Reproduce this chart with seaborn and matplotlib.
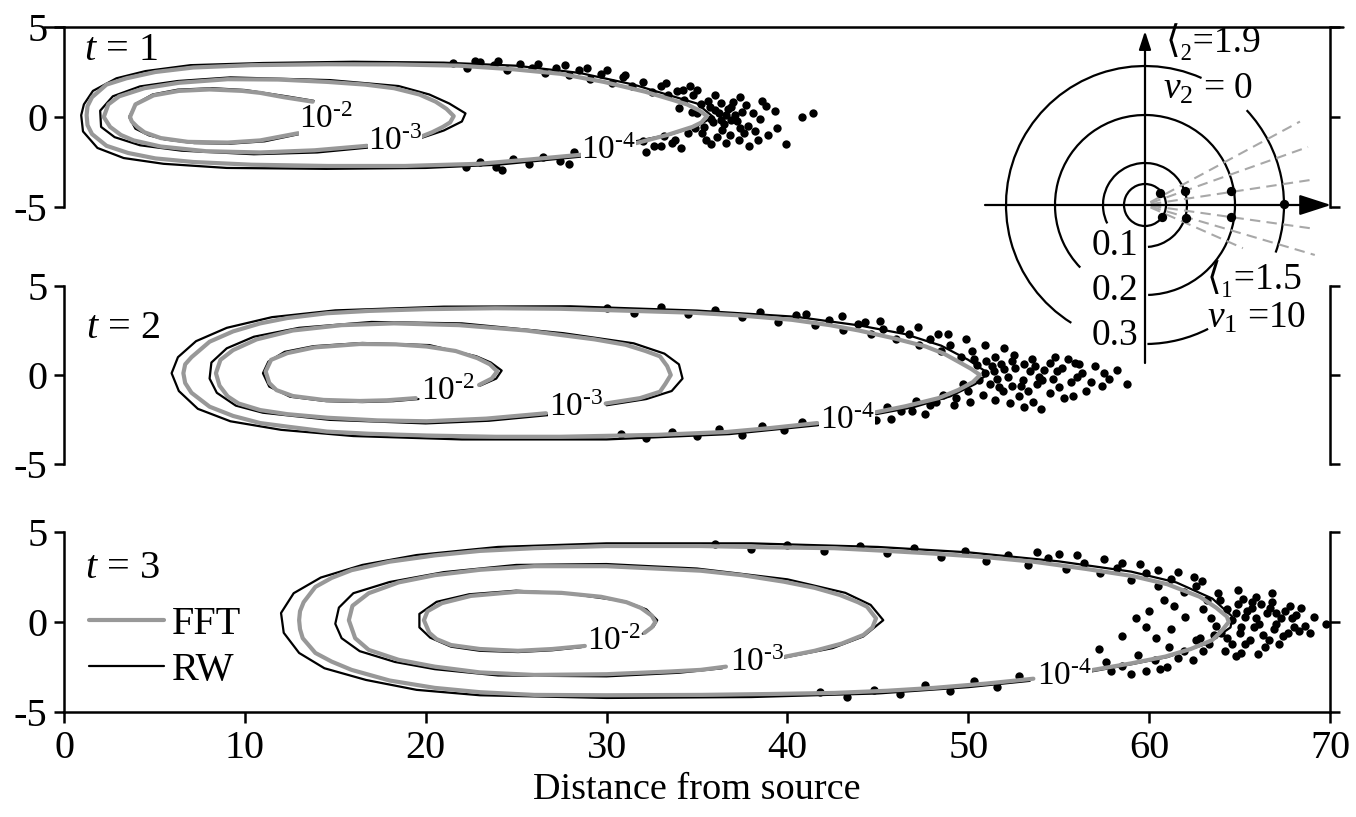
import numpy as np
import pandas as pd
import seaborn as sns
import matplotlib.pyplot as plt
from matplotlib.patches import Arc
from matplotlib.lines import Line2D

sns.set_theme(style='ticks')
plt.rcParams['font.family'] = ['Liberation Serif', 'DejaVu Serif']
plt.rcParams['mathtext.fontset'] = 'custom'
plt.rcParams['mathtext.rm'] = 'Liberation Serif'
plt.rcParams['mathtext.it'] = 'Liberation Serif:italic'
plt.rcParams['axes.unicode_minus'] = False
plt.rcParams['text.color'] = 'black'
plt.rcParams['axes.labelcolor'] = 'black'

# ---- contour data (x = distance, y = transverse) ----
level_labels = [r'10$^{\text{-}2}$', r'10$^{\text{-}3}$', r'10$^{\text{-}4}$']
time_labels = [r'$t$ = 1', r'$t$ = 2', r'$t$ = 3']
time_label_pos = [(1.1, 3.7), (1.2, 2.6), (1.15, 3.0)]

# t = 1
t1_fft_e2 = [(13.75, 0.85), (12.15, 1.1), (10.85, 1.34), (9.85, 1.45), (8.05, 1.53), (6.35, 1.45),
             (4.95, 1.2), (3.95, 0.7), (3.65, 0.0), (3.75, -0.25), (4.05, -0.55), (4.45, -0.85),
             (5.35, -1.17), (6.85, -1.38), (9.05, -1.42), (10.85, -1.3), (12.95, -0.9)]
t1_fft_e3 = [(19.75, -1.09), (20.35, -0.85), (20.95, -0.55), (21.35, -0.3), (21.55, 0.05), (21.15, 0.45),
             (20.55, 0.85), (19.65, 1.25), (18.25, 1.6), (16.65, 1.8), (14.55, 1.95), (11.85, 2.08),
             (9.05, 2.1), (6.35, 1.9), (4.45, 1.6), (3.05, 1.15), (2.45, 0.7), (2.2, 0.0), (2.55, -0.55),
             (3.15, -1.0), (3.85, -1.3), (5.35, -1.64), (7.85, -1.9), (10.85, -1.97), (13.85, -1.85),
             (16.75, -1.6)]
t1_fft_e4 = [(31.65, -1.45), (33.35, -1.0), (34.75, -0.55), (35.25, -0.3), (35.55, 0.05), (35.15, 0.35),
             (34.45, 0.7), (33.65, 0.95), (32.15, 1.4), (29.85, 1.95), (27.45, 2.4), (24.85, 2.65),
             (21.85, 2.85), (18.35, 2.92), (14.55, 2.93), (10.35, 2.88), (7.15, 2.75), (5.05, 2.5),
             (3.45, 2.15), (2.35, 1.8), (1.55, 1.1), (1.3, 0.6), (1.25, 0.1), (1.3, -0.45), (1.55, -0.95),
             (2.35, -1.6), (3.55, -2.0), (5.05, -2.3), (7.15, -2.5), (10.35, -2.65), (14.55, -2.72),
             (18.85, -2.72), (22.95, -2.6), (25.85, -2.35), (28.55, -2.1)]
t1_rw_e2 = [(13.8, 0.9), (12.3, 1.15), (10.0, 1.5), (8.2, 1.6), (6.3, 1.52), (4.9, 1.25), (4.0, 0.75),
            (3.6, 0.0), (3.95, -0.65), (4.7, -1.02), (5.6, -1.25), (7.2, -1.45), (9.2, -1.48),
            (11.1, -1.35), (13.0, -0.95)]
t1_rw_e3 = [(19.8, -1.15), (21.0, -0.75), (22.0, -0.25), (22.2, 0.2), (21.3, 0.75), (20.2, 1.25),
            (18.5, 1.72), (14.7, 2.05), (9.2, 2.2), (6.3, 2.0), (4.2, 1.7), (2.7, 1.15), (2.0, 0.35),
            (2.05, -0.55), (2.8, -1.12), (4.2, -1.57), (6.5, -1.87), (10.5, -2.07), (14.0, -1.97),
            (16.8, -1.7)]
t1_rw_e4 = [(31.6, -1.35), (33.6, -0.95), (35.0, -0.5), (35.9, 0.0), (35.0, 0.75), (33.5, 1.2),
            (31.5, 1.8), (28.5, 2.45), (25.0, 2.85), (21.0, 3.02), (16.0, 3.07), (11.0, 3.0),
            (7.0, 2.88), (4.5, 2.55), (2.9, 2.15), (1.6, 1.45), (1.1, 0.7), (0.95, 0.1), (1.05, -0.8),
            (1.85, -1.72), (3.3, -2.28), (5.5, -2.6), (9.0, -2.83), (14.5, -2.88), (20.0, -2.83),
            (24.0, -2.65), (28.6, -2.2)]
t1_dots = [(21.5, 3.0), (22.3, 2.75), (23.0, 3.05), (23.8, 2.9), (24.5, 2.6), (25.2, 2.95), (25.9, 2.7),
           (26.6, 2.45), (27.2, 2.75), (27.9, 2.35), (28.5, 2.6), (29.1, 2.1), (29.7, 2.4), (30.3, 1.9),
           (30.9, 2.2), (31.4, 1.7), (32.0, 1.95), (32.5, 1.4), (33.0, 1.75), (33.4, 1.2), (33.9, 1.45),
           (34.3, 0.95), (34.8, 1.25), (35.2, 0.7), (35.6, 0.9), (36.0, 0.4), (36.3, 0.8), (36.6, 0.1),
           (36.9, 0.55), (37.2, -0.2), (37.5, 0.3), (37.8, -0.5), (38.1, 0.2), (38.5, -0.1), (35.9, -0.3),
           (36.4, -0.7), (35.3, -0.9), (36.8, -1.0), (37.3, -1.3), (38.4, -1.3), (37.9, -1.6),
           (39.9, -1.5), (40.8, 0.0), (41.4, 0.25), (39.3, 0.35), (34.6, 1.7), (34.5, -0.9),
           (33.8, -1.3), (33.2, -1.05), (32.6, -1.6), (32.0, -1.35), (31.3, -1.85), (29.0, -2.3),
           (28.2, -1.95), (27.4, -2.45), (26.5, -2.2), (25.7, -2.6), (24.8, -2.35), (23.9, -2.75),
           (23.0, -2.5), (22.2, -2.8), (35.0, 0.2), (35.8, -0.1), (36.2, 0.25), (35.7, 0.55),
           (36.5, -0.4), (37.0, 0.85), (34.9, -0.6), (36.1, -1.1), (37.6, -0.9), (38.8, 0.6),
           (39.4, -0.6), (37.4, 1.1), (34.2, 1.5), (33.6, -1.45), (35.5, -1.3), (36.9, -0.15),
           (33.3, 1.9), (31.0, 2.35), (28.9, 2.75), (26.2, 2.95), (34.0, 0.5), (34.7, 0.3),
           (35.4, -0.55), (36.3, -0.15), (36.7, 0.45), (37.1, 0.1), (37.7, 0.65), (38.2, -0.8),
           (36.0, 1.2), (35.0, 1.5), (33.0, -1.6), (34.1, -1.7), (35.8, -1.5), (36.6, -1.45),
           (38.9, -1.0), (37.4, -0.6), (38.6, 0.9), (30.0, 2.6), (27.7, 2.9), (24.0, 3.1), (22.7, 3.1),
           (30.6, -2.3), (27.9, -2.6), (24.2, -2.95), (32.2, -1.95)]
t1_label_pos = [(14.5, -0.17), (18.3, -1.36), (30.1, -1.85)]

# t = 2
t2_fft_e2 = [(22.95, -0.56), (23.65, -0.2), (23.95, 0.2), (23.55, 0.6), (22.85, 0.95), (21.65, 1.35),
             (20.05, 1.6), (18.35, 1.72), (16.35, 1.74), (13.85, 1.55), (12.35, 1.23), (11.45, 0.85),
             (11.15, 0.2), (11.35, -0.45), (11.75, -0.85), (12.65, -1.18), (14.35, -1.4), (16.35, -1.46),
             (17.85, -1.42), (19.45, -1.3)]
t2_fft_e3 = [(29.95, -1.6), (31.85, -1.3), (32.95, -0.94), (33.25, -0.5), (33.55, 0.0), (33.35, 0.5),
             (32.95, 1.05), (32.15, 1.35), (31.05, 1.7), (29.35, 2.0), (27.45, 2.25), (25.55, 2.5),
             (21.85, 2.8), (18.25, 2.9), (15.35, 2.8), (12.65, 2.5), (10.65, 2.0), (9.35, 1.4),
             (8.65, 0.85), (8.4, 0.1), (8.6, -0.6), (9.05, -1.2), (9.65, -1.6), (10.85, -1.97),
             (12.35, -2.2), (14.55, -2.4), (17.35, -2.55), (20.05, -2.6), (23.35, -2.45), (26.65, -2.15)]
t2_fft_e4 = [(44.85, -2.1), (46.55, -1.75), (48.35, -1.3), (49.45, -0.84), (50.25, -0.4), (50.65, 0.0),
             (50.15, 0.35), (49.45, 0.75), (48.65, 1.2), (47.65, 1.6), (45.85, 2.07), (43.95, 2.5),
             (42.35, 2.8), (40.25, 3.1), (37.35, 3.35), (34.75, 3.5), (30.85, 3.62), (27.45, 3.72),
             (23.85, 3.75), (20.05, 3.7), (16.85, 3.6), (14.55, 3.47), (12.35, 3.2), (10.85, 2.9),
             (9.35, 2.45), (8.05, 1.87), (7.05, 1.0), (6.7, 0.6), (6.6, 0.1), (6.7, -0.45), (7.05, -1.0),
             (8.05, -1.78), (9.35, -2.3), (10.85, -2.7), (12.35, -2.9), (14.55, -3.18), (16.85, -3.3),
             (20.05, -3.4), (23.85, -3.47), (27.45, -3.47), (32.85, -3.36), (36.65, -3.2), (39.05, -2.98),
             (41.65, -2.7)]
t2_rw_e2 = [(23.0, -0.6), (23.9, -0.2), (24.2, 0.25), (23.6, 0.7), (22.8, 1.05), (20.2, 1.68),
            (16.5, 1.8), (13.8, 1.62), (12.2, 1.3), (11.3, 0.75), (11.0, 0.1), (11.35, -0.65),
            (12.5, -1.22), (14.5, -1.47), (16.5, -1.52), (18.2, -1.47), (19.6, -1.35)]
t2_rw_e3 = [(30.0, -1.7), (32.2, -1.35), (33.6, -0.9), (34.2, -0.2), (34.0, 0.6), (33.2, 1.2),
            (31.5, 1.78), (27.6, 2.35), (22.0, 2.9), (17.0, 2.98), (13.0, 2.65), (10.5, 2.15),
            (9.0, 1.5), (8.15, 0.7), (8.05, -0.2), (8.45, -1.0), (9.5, -1.72), (11.0, -2.12),
            (14.7, -2.52), (20.0, -2.72), (23.5, -2.57), (26.8, -2.25)]
t2_rw_e4 = [(44.9, -2.2), (47.0, -1.8), (49.0, -1.2), (50.4, -0.5), (51.1, 0.1), (50.0, 0.85),
            (48.5, 1.65), (46.5, 2.3), (44.0, 2.78), (40.5, 3.27), (35.0, 3.62), (28.0, 3.86),
            (21.0, 3.84), (15.0, 3.63), (11.5, 3.25), (9.0, 2.65), (7.3, 1.9), (6.3, 1.0), (5.95, 0.1),
            (6.35, -0.9), (7.4, -1.9), (9.2, -2.6), (12.0, -3.08), (16.0, -3.43), (22.0, -3.62),
            (30.0, -3.62), (36.8, -3.32), (41.7, -2.82)]
t2_dots = [(30.0, 3.75), (31.5, 3.5), (33.0, 3.8), (34.5, 3.4), (36.0, 3.65), (37.5, 3.25), (38.5, 3.55),
           (39.5, 3.0), (40.5, 3.35), (41.5, 2.8), (42.3, 3.1), (43.1, 2.55), (43.9, 2.85), (44.6, 2.3),
           (45.3, 2.6), (46.0, 2.0), (46.7, 2.3), (47.3, 1.7), (47.9, 2.05), (48.5, 1.35), (49.0, 1.7),
           (49.6, 1.0), (50.2, 1.35), (50.5, 0.55), (51.0, 0.8), (51.4, 0.2), (51.8, 0.6), (52.2, -0.1),
           (52.6, 0.4), (53.0, -0.3), (53.4, 0.2), (53.8, -0.5), (54.2, 0.3), (54.7, -0.2), (55.2, 0.4),
           (55.7, -0.4), (56.3, 0.1), (57.0, 0.5), (57.8, -0.2), (58.8, -0.5), (51.2, -0.5),
           (50.8, -1.1), (51.9, -0.9), (52.8, -1.2), (53.6, -1.5), (54.5, -1.0), (55.3, -1.3),
           (52.5, 1.1), (53.5, 0.9), (54.8, 1.0), (56.5, -0.9), (50.0, -0.9), (49.3, -1.3),
           (48.6, -1.1), (47.9, -1.7), (47.1, -1.45), (46.3, -2.05), (45.5, -1.8), (42.0, -2.95),
           (40.8, -2.65), (39.8, -3.1), (38.6, -2.85), (37.5, -3.35), (36.2, -3.05), (35.0, -3.45),
           (33.6, -3.2), (32.2, -3.55), (30.8, -3.3), (50.9, 0.1), (51.6, -0.2), (52.0, 0.35),
           (52.4, -0.6), (53.1, 0.6), (53.9, -0.1), (54.5, 0.65), (55.0, -0.7), (55.9, 0.7),
           (56.0, -0.1), (57.4, -0.6), (58.2, 0.3), (51.5, 1.0), (50.6, -0.3), (49.7, -0.5),
           (48.2, -1.5), (46.9, -2.0), (44.9, -2.5), (52.3, -1.6), (54.0, -1.9), (49.9, 2.0),
           (48.3, 2.3), (46.2, 2.6), (44.3, 3.0), (41.0, 3.45), (50.3, 0.9), (51.3, 0.5), (51.7, -0.7),
           (52.4, 0.8), (52.9, -0.6), (53.3, -0.9), (53.7, 0.5), (54.1, -0.3), (54.9, 0.2), (55.5, 0.9),
           (56.1, 0.6), (56.8, -0.4), (57.5, 0.1), (52.0, 1.5), (50.9, 1.7), (48.9, 2.3), (47.2, 2.7),
           (45.1, 3.05), (43.0, 3.3), (49.2, -1.7), (47.6, -2.2), (45.7, -2.45), (51.5, -1.4),
           (53.1, -1.8), (55.8, -1.2), (50.1, -1.5)]
t2_label_pos = [(21.2, -0.94), (28.3, -1.85), (43.3, -2.55)]

# t = 3
t3_fft_e2 = [(32.1, -0.6), (32.5, -0.3), (32.7, 0.0), (32.5, 0.35), (31.9, 0.78), (31.1, 1.1), (29.7, 1.4),
             (27.5, 1.62), (25.1, 1.68), (22.5, 1.45), (20.9, 1.05), (20.1, 0.6), (19.9, 0.1),
             (20.2, -0.6), (20.6, -0.95), (21.4, -1.28), (23.0, -1.5), (25.1, -1.6), (27.0, -1.5),
             (28.8, -1.33)]
t3_fft_e3 = [(39.9, -1.92), (41.5, -1.6), (43.0, -1.2), (44.2, -0.72), (44.7, -0.3), (44.9, 0.2),
             (44.4, 0.85), (43.9, 1.1), (42.9, 1.5), (41.5, 1.9), (39.8, 2.24), (37.5, 2.6), (35.2, 2.85),
             (30.0, 3.1), (26.0, 3.1), (23.0, 2.9), (20.5, 2.6), (18.5, 2.2), (16.85, 1.6), (15.95, 0.9),
             (15.75, 0.1), (16.1, -0.9), (16.85, -1.55), (18.5, -2.1), (20.5, -2.48), (23.0, -2.8),
             (26.0, -2.94), (30.0, -2.9), (33.5, -2.75), (35.2, -2.66), (36.6, -2.48)]
t3_fft_e4 = [(56.9, -2.66), (59.0, -2.3), (60.9, -1.92), (62.3, -1.5), (63.5, -1.0), (64.0, -0.5),
             (64.4, 0.0), (64.3, 0.3), (63.7, 0.8), (62.8, 1.4), (61.0, 2.1), (59.1, 2.55), (56.5, 2.95),
             (53.6, 3.35), (51.0, 3.6), (48.1, 3.8), (45.5, 3.95), (42.6, 4.1), (39.0, 4.15),
             (35.2, 4.22), (30.0, 4.22), (26.0, 4.1), (23.0, 3.95), (20.5, 3.7), (18.0, 3.35),
             (15.9, 2.88), (14.8, 2.45), (13.9, 1.95), (13.25, 1.1), (13.05, 0.6), (13.0, 0.1),
             (13.05, -0.4), (13.2, -0.9), (13.9, -1.72), (14.8, -2.2), (15.9, -2.66), (18.0, -3.25),
             (20.5, -3.66), (23.0, -3.9), (26.0, -4.05), (30.0, -4.07), (35.2, -4.05), (39.0, -4.0),
             (42.6, -3.94), (45.5, -3.82), (48.1, -3.66), (51.0, -3.42), (53.6, -3.15)]
t3_rw_e2 = [(32.0, -0.65), (32.6, -0.25), (32.8, 0.1), (32.2, 0.7), (31.0, 1.15), (28.0, 1.57),
            (25.0, 1.74), (22.4, 1.54), (20.6, 1.12), (19.65, 0.45), (19.65, -0.3), (20.25, -0.87),
            (21.4, -1.37), (23.0, -1.6), (25.1, -1.67), (27.0, -1.57), (28.6, -1.4)]
t3_rw_e3 = [(39.7, -2.0), (42.5, -1.45), (44.2, -0.8), (45.3, 0.1), (44.6, 0.95), (43.2, 1.62),
            (40.0, 2.37), (35.0, 2.97), (30.0, 3.22), (25.0, 3.17), (21.0, 2.77), (18.0, 2.22),
            (16.0, 1.6), (15.2, 0.8), (15.0, -0.1), (15.35, -0.9), (16.35, -1.62), (18.3, -2.22),
            (20.5, -2.62), (24.0, -2.97), (30.0, -3.02), (34.0, -2.82), (36.4, -2.57)]
t3_rw_e4 = [(56.8, -2.75), (59.0, -2.35), (61.0, -1.95), (63.2, -1.2), (64.5, -0.3), (64.6, 0.3),
            (63.5, 1.3), (61.5, 2.2), (59.0, 2.8), (55.0, 3.37), (50.0, 3.87), (45.0, 4.17),
            (38.0, 4.37), (30.0, 4.37), (24.0, 4.17), (19.5, 3.72), (16.5, 3.17), (14.2, 2.47),
            (12.7, 1.6), (12.0, 0.5), (12.15, -0.6), (13.0, -1.72), (14.4, -2.57), (16.7, -3.22),
            (19.5, -3.77), (23.0, -4.07), (30.0, -4.22), (38.0, -4.17), (45.0, -3.97), (50.0, -3.62),
            (53.4, -3.27)]
t3_dots = [(36.0, 4.35), (38.0, 4.05), (40.0, 4.3), (42.0, 3.95), (44.0, 4.25), (45.5, 3.85), (47.0, 4.1),
           (48.5, 3.6), (49.8, 3.95), (51.0, 3.4), (52.2, 3.75), (53.3, 3.15), (54.4, 3.55), (55.4, 2.95),
           (56.4, 3.3), (57.3, 2.7), (58.2, 3.0), (59.0, 2.35), (59.8, 2.75), (60.5, 2.0), (61.2, 2.4),
           (61.9, 1.65), (62.6, 2.0), (63.2, 1.2), (63.8, 1.6), (64.3, 0.7), (64.9, 1.0), (65.3, 0.3),
           (65.7, 0.8), (66.1, -0.1), (66.5, 0.5), (66.9, -0.4), (67.3, 0.2), (67.7, -0.6), (68.1, 0.4),
           (68.6, -0.2), (69.1, 0.3), (69.8, -0.1), (65.0, -0.6), (64.6, -1.2), (65.6, -1.0),
           (66.4, -1.4), (67.2, -1.2), (65.9, 1.4), (66.8, 1.1), (67.8, 0.9), (60.0, 0.6), (61.2, -0.4),
           (62.0, 0.3), (58.5, -0.8), (62.8, -0.9), (63.4, 0.2), (64.0, -0.6), (63.3, -1.2),
           (62.6, -1.0), (61.9, -1.6), (61.1, -1.4), (60.3, -2.1), (59.4, -1.85), (58.5, -2.45),
           (57.6, -2.2), (54.0, -3.35), (52.8, -3.0), (51.6, -3.6), (50.3, -3.3), (49.0, -3.85),
           (47.6, -3.5), (46.2, -4.0), (44.8, -3.75), (43.3, -4.15), (41.8, -3.9), (64.6, 0.1),
           (65.1, -0.3), (65.4, 0.6), (65.9, 0.2), (66.3, -0.7), (66.7, 0.8), (67.0, -0.1), (67.5, 0.6),
           (68.0, -0.3), (68.4, 0.8), (68.9, -0.6), (65.2, 1.3), (64.2, -1.6), (65.1, -1.7),
           (66.0, -1.8), (63.7, -0.2), (63.9, 1.2), (61.6, -2.0), (60.6, -2.6), (59.0, -2.9),
           (62.5, 2.5), (60.5, 2.9), (58.5, 3.3), (56.0, 3.7), (53.8, 3.9), (57.2, -1.5), (59.8, -0.3),
           (60.8, 1.2), (63.0, 0.7), (63.6, -0.7), (64.3, -0.9), (64.8, 0.5), (65.3, -1.2), (65.7, 1.1),
           (66.2, 1.0), (66.6, -1.0), (67.0, 0.5), (67.4, -0.8), (67.9, 0.2), (68.3, -0.5), (65.8, -0.3),
           (66.8, 1.6), (64.9, 1.8), (62.9, 2.3), (61.6, 2.8), (59.5, 3.2), (57.5, 3.5), (55.0, 3.8),
           (62.4, -2.1), (61.0, -2.5), (59.8, -2.7), (63.0, -1.6), (64.8, -1.9), (57.9, -2.7),
           (61.4, 0.9), (60.4, -0.9), (59.3, 0.2)]
t3_label_pos = [(30.4, -1.1), (38.3, -2.25), (55.3, -3.05)]

# ---- inset sketch (units: pixels around the origin) ----
inset_radii = [21, 42, 90, 139]
inset_arcs = [(0, 0, 360), (1, -86, 206), (2, -88, 224), (3, -20, 43), (3, 66, 238), (3, 271, 297)]
ray_angles = [28.3, 19.6, 8.6, -8.0, -16.4, -23.8]
ray_lengths = [176, 173, 167, 167, 177, 107]
inset_dots = [(15, 12.3), (40, 14), (86, 14), (139.3, 0.7), (16.7, -12.3), (40.7, -13.3), (86, -12.3)]
# (x, y, text) with the baseline at y
inset_texts = [(21, 153, '\u27e8\u2082=1.9'), (18, 106, r'$\nu_2$ = 0'),
               (-53, -50, '0.1'), (-53, -95, '0.2'), (-53, -140, '0.3'),
               (62, -84, '\u27e8\u2081=1.5'), (62, -123, r'$\nu_1$ =10')]

FFT_COLOR = '#989898'
BIG = 29

fig = plt.figure(figsize=(13.56, 8.17), dpi=100)
W, H = 1356, 817
ax_left, ax_right = 64, 1330
panel_px = [(27, 207), (286, 464), (532, 712)]

panels = [
    (t1_dots, [t1_rw_e2, t1_rw_e3, t1_rw_e4], [t1_fft_e2, t1_fft_e3, t1_fft_e4], t1_label_pos),
    (t2_dots, [t2_rw_e2, t2_rw_e3, t2_rw_e4], [t2_fft_e2, t2_fft_e3, t2_fft_e4], t2_label_pos),
    (t3_dots, [t3_rw_e2, t3_rw_e3, t3_rw_e4], [t3_fft_e2, t3_fft_e3, t3_fft_e4], t3_label_pos),
]

axes = []
for i, ((top, bot), (dots, rws, ffts, lpos)) in enumerate(zip(panel_px, panels)):
    ax = fig.add_axes([ax_left / W, 1 - bot / H, (ax_right - ax_left) / W, (bot - top) / H])
    axes.append(ax)
    dx, dy = zip(*dots)
    sns.scatterplot(x=list(dx), y=list(dy), ax=ax, color='black', s=36, linewidth=0, zorder=1)
    for c in rws:
        cx, cy = zip(*c)
        sns.lineplot(x=list(cx), y=list(cy), ax=ax, sort=False, estimator=None,
                     color='black', lw=1.6, zorder=2)
    for c in ffts:
        cx, cy = zip(*c)
        sns.lineplot(x=list(cx), y=list(cy), ax=ax, sort=False, estimator=None,
                     color=FFT_COLOR, lw=3.0, zorder=3)
    for (lx, ly), txt in zip(lpos, level_labels):
        ax.text(lx, ly, txt, ha='center', va='center', fontsize=24, zorder=4,
                bbox=dict(fc='white', ec='none', pad=0.3))
    tx, ty = time_label_pos[i]
    ax.text(tx, ty, time_labels[i], ha='left', va='center', fontsize=BIG)

    ax.set_xlim(0, 70)
    ax.set_ylim(-5, 5)
    ax.set_yticks([-5, 0, 5])
    ax.set_xlabel('')
    ax.set_ylabel('')
    ax.patch.set_alpha(0)
    for s in ['left', 'right', 'bottom']:
        ax.spines[s].set_linewidth(1.8)
        ax.spines[s].set_color('black')
    ax.spines['top'].set_visible(False)
    ax.tick_params(axis='y', left=True, right=True, labelright=False, direction='out',
                   length=7, width=1.8, labelsize=BIG, pad=5, colors='black')
    if i < 2:
        ax.spines['bottom'].set_visible(False)
        ax.tick_params(axis='x', bottom=False, labelbottom=False)
    else:
        ax.set_xticks(range(0, 71, 10))
        ax.tick_params(axis='x', direction='out', length=8, width=1.8, labelsize=BIG, pad=5,
                       colors='black')
        ax.set_xlabel('Distance from source', fontsize=27.5, labelpad=4, color='black')

axes[0].axhline(5, xmin=-0.016, xmax=1.01, color='black', lw=1.8, clip_on=False)

handles = [Line2D([], [], color=FFT_COLOR, lw=3.0), Line2D([], [], color='black', lw=1.6)]
axes[2].legend(handles, ['FFT', 'RW'], loc='upper left', bbox_to_anchor=(0.02, 0.59),
               frameon=False, fontsize=BIG, handlelength=1.85, handletextpad=0.2,
               labelspacing=0.22, borderpad=0, borderaxespad=0)

# ---- inset ----
cx_px, cy_px = 1145, 205
xl, xr, yb, yt = -170, 205, -165, 200
ins = fig.add_axes([(cx_px + xl) / W, 1 - (cy_px - yb) / H, (xr - xl) / W, (yt - yb) / H])
ins.set_xlim(xl, xr)
ins.set_ylim(yb, yt)
ins.axis('off')
ins.patch.set_alpha(0)

for ridx, a1, a2 in inset_arcs:
    r = inset_radii[ridx]
    ins.add_patch(Arc((0, 0), 2 * r, 2 * r, theta1=a1, theta2=a2, color='black', lw=1.6))
for ang, ln in zip(ray_angles, ray_lengths):
    t = np.deg2rad(ang)
    ins.plot([6 * np.cos(t), ln * np.cos(t)], [6 * np.sin(t), ln * np.sin(t)],
             color='#a8a8a8', lw=1.5, ls=(0, (5, 3)))
idx, idy = zip(*inset_dots)
sns.scatterplot(x=list(idx), y=list(idy), ax=ins, color='black', s=45, linewidth=0, zorder=5)
ins.annotate('', xy=(186, 0), xytext=(-160, 0),
             arrowprops=dict(arrowstyle='-|>,head_length=1.3,head_width=0.42', color='black',
                             lw=1.6, shrinkA=0, shrinkB=0, mutation_scale=15))
ins.annotate('', xy=(0, 174), xytext=(0, -158),
             arrowprops=dict(arrowstyle='-|>,head_length=1.1,head_width=0.36', color='black',
                             lw=1.6, shrinkA=0, shrinkB=0, mutation_scale=10))
for x, y, s in inset_texts:
    ins.text(x, y, s, ha='left', va='baseline', fontsize=27,
             family=['Liberation Serif', 'DejaVu Serif', 'DejaVu Sans'])

fig.savefig('out.png', dpi=100)
